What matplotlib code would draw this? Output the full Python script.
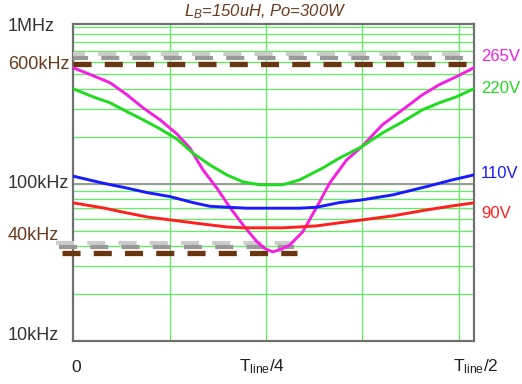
import matplotlib
matplotlib.use("Agg")
import matplotlib.pyplot as plt
import matplotlib.transforms as mtransforms
from matplotlib.ticker import LogLocator, NullFormatter

plt.rcParams["font.family"] = ["Liberation Sans", "DejaVu Sans"]
plt.rcParams["mathtext.fontset"] = "custom"
plt.rcParams["mathtext.rm"] = "Liberation Sans"
plt.rcParams["mathtext.it"] = "Liberation Sans:italic"
plt.rcParams["lines.scale_dashes"] = False

# time within half line cycle (units of T_line), switching frequency in kHz
t_265 = [0, 0.0249, 0.0461, 0.0672, 0.0872, 0.1083, 0.1295, 0.1457, 0.1619, 0.1793,
         0.1955, 0.2117, 0.2291, 0.239, 0.249, 0.259, 0.2702, 0.2864, 0.3038, 0.32,
         0.3412, 0.3599, 0.386, 0.4158, 0.4358, 0.4569, 0.4781, 0.5]
f_265 = [548, 488, 440, 369, 305, 256, 208, 169, 123, 94,
         71, 55, 43, 38.8, 36.9, 38.2, 40.8, 49.4, 71, 101,
         142, 172, 238, 309, 369, 428, 481, 548]

t_220 = [0, 0.0249, 0.0461, 0.0672, 0.0872, 0.1083, 0.1295, 0.1494, 0.1706, 0.1918,
         0.2117, 0.2328, 0.2615, 0.2826, 0.3113, 0.3324, 0.3599, 0.386, 0.4109, 0.4358,
         0.4569, 0.4781, 0.5]
f_220 = [403, 358, 328, 288, 256, 224, 193, 157, 132, 114,
         103, 98.6, 98.6, 106, 126, 146, 172, 211, 248, 296,
         328, 358, 403]

t_110 = [0, 0.0374, 0.0672, 0.0921, 0.1208, 0.1494, 0.1706, 0.1918, 0.2166, 0.2826,
         0.3038, 0.3324, 0.3599, 0.3984, 0.4407, 0.4731, 0.5]
f_110 = [112, 101, 94, 88, 83, 76, 72, 71, 70, 70,
         71, 76, 79, 85, 96, 106, 114]

t_90 = [0, 0.0374, 0.0672, 0.0921, 0.1208, 0.1494, 0.1706, 0.1918, 0.2117, 0.2615,
        0.2826, 0.3038, 0.3324, 0.3611, 0.3984, 0.4407, 0.4731, 0.5]
f_90 = [75.7, 70.3, 65.3, 61.6, 59, 56.5, 54.8, 53.2, 52.5, 52.5,
        53.2, 54, 56.5, 59, 62.5, 68.2, 72.4, 75.7]

series = [("265V", t_265, f_265, "#f41fe0"),
          ("220V", t_220, f_220, "#1fdc1f"),
          ("110V", t_110, f_110, "#1a1aff"),
          ("90V", t_90, f_90, "#ff1f1f")]

# frequency limits (kHz) drawn as dashed bars
f_max_limit = 575
f_min_limit = 36.5
label_y = {"265V": 644, "220V": 403, "110V": 117, "90V": 65}

fig = plt.figure(figsize=(5.22, 3.84), dpi=100)
ax = fig.add_axes([73 / 522, 43 / 384, 401 / 522, 317 / 384])
ax.set_yscale("log")
ax.set_xlim(0, 0.5)
ax.set_ylim(10, 1040)

# grid
ax.yaxis.set_major_locator(LogLocator(base=10))
ax.yaxis.set_minor_locator(LogLocator(base=10, subs=range(2, 10)))
ax.yaxis.set_minor_formatter(NullFormatter())
ax.grid(True, which="both", axis="y", color="#5ef05e", linewidth=0.9)
ax.set_xticks([0.1208, 0.2403, 0.3599, 0.4819])
ax.grid(True, which="major", axis="x", color="#5ef05e", linewidth=0.9)
ax.tick_params(which="both", length=0, labelleft=False, labelbottom=False)
ax.axhline(100, color="#999999", linewidth=1.4, zorder=2)
for s in ax.spines.values():
    s.set_color("#707070")
    s.set_linewidth(1.6)

# dashed limit bars with grey shadow
def limit_bar(x0, x1, f, clip):
    for dx, dy, col, lw in [(-6, 10, "#cccccc", 3.0), (-3, 6, "#999999", 3.0), (0, 0, "#6a3510", 3.8)]:
        tr = mtransforms.offset_copy(ax.transData, fig=fig, x=dx, y=dy, units="dots")
        ax.plot([x0, x1], [f, f], color=col, linewidth=lw, dashes=(13, 9.5),
                solid_capstyle="butt", dash_capstyle="butt", transform=tr,
                clip_on=clip, zorder=3)

limit_bar(0, 0.492, f_max_limit, True)
limit_bar(-0.0137, 0.279, f_min_limit, False)

for name, t, f, c in series:
    ax.plot(t, f, color=c, linewidth=2.1, zorder=4, solid_joinstyle="round")
    ax.text(481 / 522, label_y[name], name, color=c, fontsize=12, ha="left", va="center",
            transform=mtransforms.blended_transform_factory(fig.transFigure, ax.transData))

# y labels
ytr = mtransforms.blended_transform_factory(fig.transFigure, ax.transData)
for val, txt, col in [(1000, "1MHz", "#333333"), (575, "600kHz", "#6a3a1e"),
                      (100, "100kHz", "#333333"), (46.7, "40kHz", "#6a3a1e"),
                      (10.8, "10kHz", "#333333")]:
    ax.text(8 / 522, val, txt, color=col, fontsize=13, ha="left", va="center", transform=ytr)

# x labels
xtr = mtransforms.blended_transform_factory(ax.transData, fig.transFigure)
for xv, txt in [(0.004, "0"), (0.2353, r"T$_{\mathrm{line}}$/4"), (0.502, r"T$_{\mathrm{line}}$/2")]:
    ax.text(xv, 1 - 367 / 384, txt, color="#222222", fontsize=12.5, ha="center", va="center",
            transform=xtr)

fig.text(265 / 522, 1 - 12 / 384, r"L$_{\mathit{B}}$=150uH, Po=300W", color="#6a3a1e",
         fontsize=12, style="italic", ha="center", va="center")

fig.savefig("out.png", dpi=100)
